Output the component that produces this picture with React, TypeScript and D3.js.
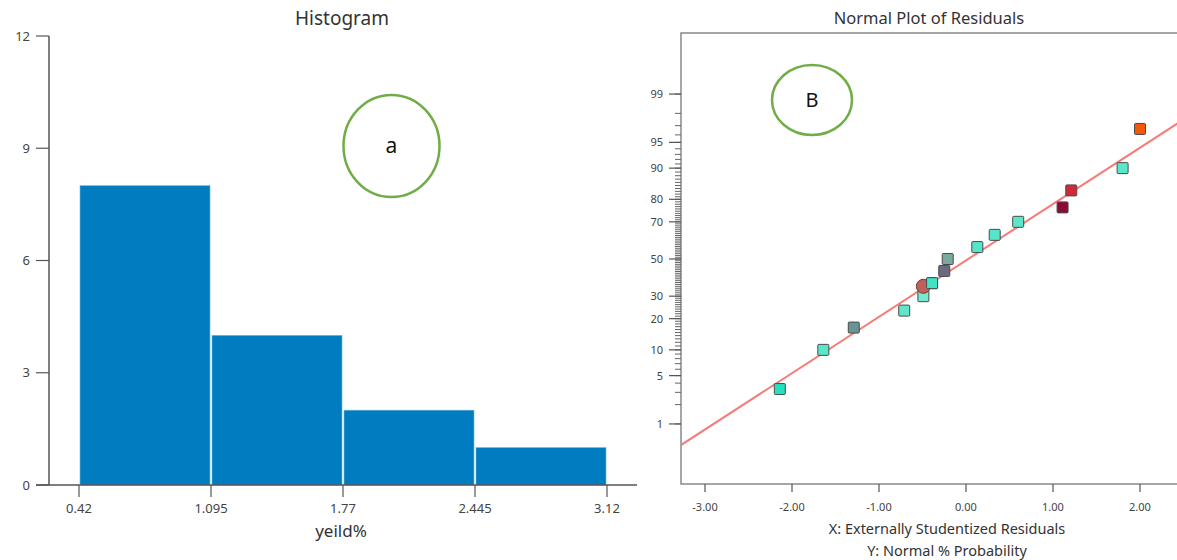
import React from "react";
import * as d3 from "d3";

// histogram (left)
const binEdges = [0.42, 1.095, 1.77, 2.445, 3.12];
const binCounts = [8, 4, 2, 1];
const histYTicks = [0, 3, 6, 9, 12];

// normal plot (right)
const residuals = [-2.14, -1.64, -1.29, -0.71, -0.49, -0.39, -0.25, -0.21, 0.13, 0.33, 0.6, 1.11, 1.21, 1.8, 2.0];
const probabilities = [3.33, 10, 16.67, 23.33, 30, 36.67, 43.33, 50, 56.67, 63.33, 70, 76.67, 83.33, 90, 96.67];
const pointColors = [
  "#22e2c2", "#5ae6ca", "#6a9494", "#62e5ca", "#78e8cf", "#40e3c6", "#6c6a80", "#7aa9a0",
  "#55e5c8", "#55e5c8", "#5ee6ca", "#8e0a36", "#d02a3a", "#5ee6ca", "#f25a0a",
];
const highlight = { residual: -0.49, probability: 35 };
const probTicks = [1, 5, 10, 20, 30, 50, 70, 80, 90, 95, 99];
const probMinor = d3.range(1, 100);
const residTicks = [-3, -2, -1, 0, 1, 2];
const fitLine = { intercept: -0.02, slope: 0.795 };

const font = "'Noto Sans', 'Open Sans', sans-serif";
const axisColor = "#555";
const textColor = "#444";

// inverse normal cdf (Acklam), input in percent
function probit(p: number) {
  const q = p / 100;
  const a = [-39.69683028665376, 220.9460984245205, -275.9285104469687, 138.357751867269, -30.66479806614716, 2.506628277459239];
  const b = [-54.47609879822406, 161.5858368580409, -155.6989798598866, 66.80131188771972, -13.28068155288572];
  const c = [-0.007784894002430293, -0.3223964580411365, -2.400758277161838, -2.549732539343734, 4.374664141464968, 2.938163982698783];
  const d = [0.007784695709041462, 0.3224671290700398, 2.445134137142996, 3.754408661907416];
  const pl = 0.02425;
  if (q < pl) {
    const r = Math.sqrt(-2 * Math.log(q));
    return (((((c[0] * r + c[1]) * r + c[2]) * r + c[3]) * r + c[4]) * r + c[5]) / ((((d[0] * r + d[1]) * r + d[2]) * r + d[3]) * r + 1);
  }
  if (q > 1 - pl) {
    const r = Math.sqrt(-2 * Math.log(1 - q));
    return -(((((c[0] * r + c[1]) * r + c[2]) * r + c[3]) * r + c[4]) * r + c[5]) / ((((d[0] * r + d[1]) * r + d[2]) * r + d[3]) * r + 1);
  }
  const s = q - 0.5;
  const r = s * s;
  return (((((a[0] * r + a[1]) * r + a[2]) * r + a[3]) * r + a[4]) * r + a[5]) * s / (((((b[0] * r + b[1]) * r + b[2]) * r + b[3]) * r + b[4]) * r + 1);
}

function Histogram() {
  const x = d3.scaleLinear().domain([0.42, 3.12]).range([79, 607]);
  const y = d3.scaleLinear().domain([0, 12]).range([485, 36]);
  const bins = binCounts.map((c, i) => ({ x0: binEdges[i], x1: binEdges[i + 1], count: c }));

  return (
    <g>
      <text x={342} y={25} textAnchor="middle" fontSize={19} fill="#333" fontFamily={font}>Histogram</text>
      {bins.map((b, i) => (
        <rect key={i} x={x(b.x0) + 1} y={y(b.count)} width={x(b.x1) - x(b.x0) - 2} height={y(0) - y(b.count)}
          fill="#007dc1" stroke="#6fb6e0" strokeWidth={0.6} />
      ))}
      {/* y axis */}
      <line x1={49} x2={49} y1={y(12)} y2={y(0)} stroke={axisColor} strokeWidth={1.5} />
      {histYTicks.map(t => (
        <g key={t}>
          <line x1={36} x2={49} y1={y(t)} y2={y(t)} stroke={axisColor} strokeWidth={1.2} />
          <text x={30} y={y(t) + 4.5} textAnchor="end" fontSize={13} fill={textColor} fontFamily={font}>{t}</text>
        </g>
      ))}
      {/* x axis */}
      <line x1={36} x2={637} y1={y(0)} y2={y(0)} stroke={axisColor} strokeWidth={1.5} />
      {binEdges.map(t => (
        <g key={t}>
          <line x1={x(t)} x2={x(t)} y1={y(0)} y2={y(0) + 12} stroke={axisColor} strokeWidth={1.2} />
          <text x={x(t)} y={513} textAnchor="middle" fontSize={13} fill={textColor} fontFamily={font}>{t}</text>
        </g>
      ))}
      <text x={341} y={537} textAnchor="middle" fontSize={17} fill="#333" fontFamily={font}>yeild%</text>
      <ellipse cx={391.5} cy={146} rx={48} ry={51} fill="none" stroke="#70ad47" strokeWidth={2.5} />
      <text x={391.5} y={153} textAnchor="middle" fontSize={21} fill="#111" fontFamily={font}>a</text>
    </g>
  );
}

function NormalPlot() {
  const x = d3.scaleLinear().domain([-3, 2]).range([705, 1140]);
  const zy = d3.scaleLinear().domain([0, 1]).range([259, 259 - 70.9]);
  const y = (p: number) => zy(probit(p));
  const left = 681, top = 33, bottom = 484, right = 1190;
  const lx0 = x.invert(left), lx1 = x.invert(right);
  const line = d3.line<number>().x(d => x(d)).y(d => zy(fitLine.intercept + fitLine.slope * d));

  return (
    <g>
      <text x={929} y={24} textAnchor="middle" fontSize={16.5} fill="#333" fontFamily={font}>Normal Plot of Residuals</text>
      <defs>
        <clipPath id="plotclip"><rect x={left} y={top} width={right - left} height={bottom - top} /></clipPath>
      </defs>
      <rect x={left} y={top} width={right - left} height={bottom - top} fill="none" stroke="#888" strokeWidth={1.5} />
      {probMinor.map(p => (
        <line key={p} x1={left - 6} x2={left} y1={y(p)} y2={y(p)} stroke="#666" strokeWidth={1} />
      ))}
      {probTicks.map(p => (
        <g key={p}>
          <line x1={left - 12} x2={left} y1={y(p)} y2={y(p)} stroke={axisColor} strokeWidth={1.2} />
          <text x={663} y={y(p) + 4} textAnchor="end" fontSize={11} fill={textColor} fontFamily={font}>{p}</text>
        </g>
      ))}
      {residTicks.map(t => (
        <g key={t}>
          <line x1={x(t)} x2={x(t)} y1={bottom} y2={bottom + 8} stroke={axisColor} strokeWidth={1.2} />
          <text x={x(t)} y={511} textAnchor="middle" fontSize={11} fill={textColor} fontFamily={font}>{t.toFixed(2)}</text>
        </g>
      ))}
      <text x={947} y={534} textAnchor="middle" fontSize={14.5} fill="#333" fontFamily={font}>X: Externally Studentized Residuals</text>
      <text x={947} y={556} textAnchor="middle" fontSize={14.5} fill="#333" fontFamily={font}>Y: Normal % Probability</text>
      <g clipPath="url(#plotclip)">
        <path d={line([lx0, lx1]) || ""} fill="none" stroke="#f77b78" strokeWidth={2} />
      </g>
      {residuals.map((r, i) => (
        <rect key={i} x={x(r) - 5.5} y={y(probabilities[i]) - 5.5} width={11} height={11} rx={1}
          fill={pointColors[i]} stroke="#4a4a4a" strokeWidth={1} />
      ))}
      <circle cx={x(highlight.residual)} cy={y(highlight.probability)} r={7} fill="#c0605a" stroke="#6e3a3a" strokeWidth={1} />
      {/* square drawn over the highlight circle */}
      <rect x={x(residuals[5]) - 5.5} y={y(probabilities[5]) - 5.5} width={11} height={11} rx={1}
        fill={pointColors[5]} stroke="#4a4a4a" strokeWidth={1} />
      <ellipse cx={812} cy={100} rx={40} ry={35} fill="none" stroke="#70ad47" strokeWidth={2.5} />
      <text x={812} y={107} textAnchor="middle" fontSize={20} fill="#111" fontFamily={font}>B</text>
    </g>
  );
}

export default function App() {
  return (
    <svg width={1177} height={560} style={{ position: "absolute", left: 0, top: 0, background: "#fff" }}>
      <Histogram />
      <NormalPlot />
    </svg>
  );
}
